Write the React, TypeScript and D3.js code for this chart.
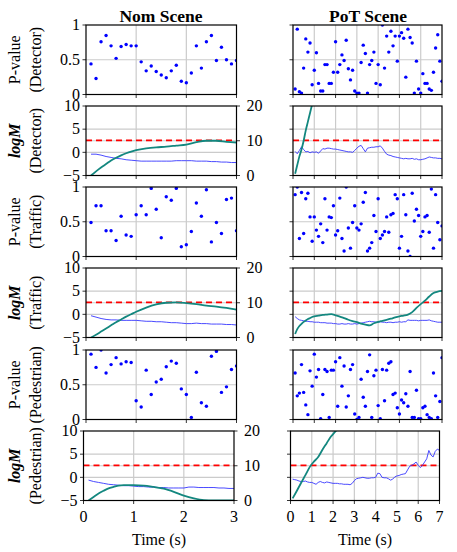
import React from "react";
import * as d3 from "d3";

// sample times
const nomTime = d3.range(1, 31).map((i) => i / 10);
const potTime = d3.range(1, 71).map((i) => i / 10);

// P-values, Nom scene
const nomPDetector = [0.44, 0.23, 0.76, 0.85, 0.7, 0.52, 0.69, 0.72, 0.7, 0.7, 0.47, 0.34, 0.41, 0.33, 0.28, 0.24, 0.34, 0.42, 0.19, 0.17, 0.31, 0.7, 0.38, 0.76, 0.85, 0.49, 0.68, 0.5, 0.44, 0.49];
const nomPTraffic = [0.49, 0.73, 0.73, 0.37, 0.37, 0.23, 0.58, 0.31, 0.29, 0.6, 0.73, 0.6, 0.98, 0.68, 0.27, 0.86, 0.81, 0.98, 0.14, 0.17, 0.36, 0.77, 0.58, 0.96, 0.21, 0.49, 0.33, 0.82, 0.84, 0.37];
const nomPPedestrian = [0.94, 0.75, 1.0, 0.67, 0.79, 0.89, 0.8, 0.83, 0.82, 0.27, 0.18, 0.71, 0.36, 0.54, 0.58, 0.76, 0.84, 0.81, 0.44, 0.36, 0.03, 0.68, 0.24, 0.19, 0.91, 0.98, 0.39, 0.47, 0.72, 0.77];

// P-values, PoT scene
const potPDetector = [0.08, 0.94, 0.04, 0.02, 0.38, 0.8, 0.61, 0.74, 0.14, 0.35, 0.6, 0.16, 0.05, 0.05, 0.43, 0.43, 0.16, 0.16, 0.32, 0.76, 0.32, 0.43, 0.57, 0.49, 0.78, 0.37, 0.21, 0.35, 0.05, 0.02, 0.02, 0.46, 0.71, 0.59, 0.02, 0.43, 0.49, 0.61, 0.16, 0.43, 0.14, 1.0, 0.38, 0.84, 0.61, 0.91, 0.7, 0.84, 0.48, 0.84, 0.89, 0.81, 0.25, 0.94, 0.82, 0.74, 0.02, 0.48, 0.08, 0.02, 0.3, 0.16, 0.16, 0.08, 0.06, 0.32, 0.67, 0.86, 0.48, 0.19];
const potPTraffic = [0.89, 1.0, 0.26, 0.92, 0.33, 0.83, 0.91, 0.57, 0.22, 0.57, 0.38, 0.29, 0.47, 0.2, 0.83, 0.38, 0.57, 0.56, 0.73, 0.31, 0.37, 0.84, 0.26, 0.08, 1.0, 0.41, 0.12, 0.49, 0.73, 0.41, 0.38, 0.47, 0.78, 0.92, 0.08, 0.12, 0.2, 0.59, 0.36, 0.83, 0.26, 0.31, 0.36, 0.57, 0.35, 0.6, 0.62, 0.89, 0.83, 0.12, 0.29, 0.89, 0.6, 0.08, 0.0, 0.91, 0.51, 0.68, 0.59, 0.29, 0.36, 0.57, 0.59, 0.35, 0.97, 0.12, 0.89, 0.49, 0.24, 0.44];
const potPPedestrian = [0.67, 0.34, 0.38, 0.79, 0.39, 0.21, 0.07, 0.7, 0.48, 0.94, 0.61, 0.72, 0.01, 0.36, 0.72, 0.69, 0.03, 0.71, 0.71, 0.83, 0.19, 0.89, 0.48, 0.77, 0.18, 0.34, 0.72, 0.79, 0.08, 0.0, 0.03, 0.58, 0.32, 0.19, 0.69, 0.93, 0.03, 0.63, 0.71, 0.2, 0.01, 0.72, 0.27, 0.71, 0.81, 0.83, 0.36, 0.38, 0.17, 0.08, 0.28, 0.24, 0.37, 0.19, 0.69, 0.03, 0.03, 0.42, 0.01, 0.01, 0.17, 0.19, 0.07, 0.03, 0.01, 0.67, 0.34, 0.03, 0.26, 0.89];

// logM (left axis), blue
const nomMDetector = [-0.4, -0.4, -0.6, -0.9, -1.1, -1.3, -1.4, -1.6, -1.7, -1.8, -1.9, -1.9, -1.9, -1.9, -1.9, -1.9, -1.9, -1.8, -1.8, -1.8, -1.8, -1.9, -1.9, -1.9, -2.0, -2.0, -2.1, -2.1, -2.2, -2.2];
const nomMTraffic = [-0.3, -0.6, -0.9, -1.1, -1.2, -1.2, -1.3, -1.3, -1.3, -1.3, -1.4, -1.5, -1.5, -1.6, -1.6, -1.7, -1.8, -1.8, -1.9, -2.0, -2.0, -1.9, -2.0, -2.0, -2.1, -2.1, -2.1, -2.2, -2.2, -2.3];
const nomMPedestrian = [-0.6, -0.9, -1.1, -1.3, -1.5, -1.6, -1.7, -1.8, -1.8, -1.9, -2.0, -2.0, -2.1, -2.1, -2.2, -2.2, -2.3, -2.3, -2.3, -2.3, -2.1, -2.1, -2.2, -2.2, -2.2, -2.2, -2.3, -2.3, -2.4, -2.4];
const potMDetector = [0.2, -0.3, 0.4, 1.2, 0.6, 0.1, 0.2, -0.1, 0.1, 0.0, 0.1, -0.2, 0.3, 0.8, 0.7, 0.9, 0.9, 0.8, 0.7, 0.7, 0.6, 0.5, 0.4, 0.3, 0.2, 0.1, 0.1, 0.0, 0.4, 0.9, 1.3, 1.5, 0.8, 0.1, 0.9, 1.0, 1.1, 1.1, 1.2, 1.2, 1.4, 0.9, 0.2, -0.4, -0.6, -0.7, -0.9, -1.0, -1.1, -1.2, -1.3, -1.4, -1.3, -1.4, -1.4, -1.3, -1.5, -1.4, -1.6, -1.6, -1.5, -1.4, -1.2, -1.0, -1.1, -1.2, -1.2, -1.3, -1.3, -1.4];
const potMTraffic = [-0.5, -0.9, -1.2, -1.3, -1.4, -1.5, -1.5, -1.6, -1.6, -1.7, -1.7, -1.7, -1.8, -1.8, -1.8, -1.9, -1.9, -1.9, -2.0, -2.0, -2.1, -2.1, -2.0, -2.1, -2.1, -2.0, -2.1, -2.1, -2.0, -2.1, -2.0, -1.9, -1.8, -1.7, -1.6, -1.5, -1.6, -1.6, -1.7, -1.7, -1.6, -1.7, -1.7, -1.8, -1.7, -1.7, -1.8, -1.7, -1.7, -1.6, -1.7, -1.6, -1.6, -1.2, -1.3, -1.3, -1.3, -1.3, -1.4, -1.3, -1.3, -1.3, -1.3, -1.2, -1.4, -1.5, -1.6, -1.7, -1.7, -1.7];
const potMPedestrian = [-0.4, -0.5, -0.6, -0.8, -0.9, -0.9, -0.8, -1.0, -1.1, -1.1, -1.3, -1.5, -1.1, -0.9, -1.1, -1.2, -1.0, -1.1, -1.2, -1.3, -1.3, -1.3, -1.4, -1.4, -1.5, -1.5, -1.5, -1.6, -1.3, -0.7, -0.3, -0.2, -0.1, 0.0, -0.1, -0.2, -0.2, -0.1, -0.1, 0.0, 0.9, 0.8, 0.0, -0.1, -0.1, -0.3, -0.6, -0.4, 0.1, 0.3, 0.4, 0.6, 0.7, 0.8, 1.6, 2.4, 2.6, 2.9, 3.3, 2.6, 2.1, 2.6, 3.3, 4.0, 5.8, 4.8, 4.4, 5.6, 6.1, 5.8];

// second series (right axis 0-20), teal
const nomTealTime = [0.1, 0.2, 0.3, 0.4, 0.5, 0.6, 0.7, 0.8, 0.9, 1.0, 1.2, 1.4, 1.6, 1.8, 2.0, 2.2, 2.4, 2.6, 2.8, 3.0];
const nomTealDetector = [0, 1.2, 2.3, 3.3, 4.3, 5.1, 5.8, 6.4, 6.9, 7.3, 7.8, 8.1, 8.3, 8.6, 8.9, 9.6, 10.0, 10.0, 9.7, 9.5];
const nomTealTraffic = [0, 0.8, 1.7, 2.6, 3.5, 4.4, 5.2, 6.0, 6.7, 7.4, 8.6, 9.5, 10.0, 10.1, 9.9, 9.6, 9.2, 8.9, 8.5, 8.0];
const nomTealPedestrian = [0, 1.0, 2.0, 2.8, 3.5, 3.9, 4.3, 4.4, 4.4, 4.4, 4.3, 3.9, 3.4, 2.5, 1.4, 0.6, 0.1, 0, 0, 0];
const potTealDetTime = [0.1, 0.2, 0.3, 0.4, 0.5, 0.6, 0.7, 0.8, 0.9, 1.0];
const potTealDetector = [0.5, 3.0, 5.5, 7.5, 10.0, 13.0, 15.5, 18.0, 20.5, 23.0];
const potTealTrafTime = [0.1, 0.2, 0.3, 0.4, 0.5, 0.6, 0.7, 0.8, 0.9, 1.0, 1.2, 1.4, 1.6, 1.8, 2.0, 2.2, 2.4, 2.6, 2.8, 3.0, 3.2, 3.4, 3.6, 3.8, 4.0, 4.2, 4.4, 4.6, 4.8, 5.0, 5.2, 5.4, 5.6, 5.8, 6.0, 6.2, 6.4, 6.6, 6.8, 7.0];
const potTealTraffic = [1.0, 2.4, 3.3, 3.9, 4.5, 4.9, 5.3, 5.6, 5.9, 6.1, 6.3, 6.5, 6.6, 6.7, 6.4, 6.0, 5.6, 5.1, 4.7, 4.4, 4.0, 3.7, 3.5, 4.1, 4.5, 4.8, 5.1, 5.4, 5.8, 6.1, 6.3, 6.6, 7.3, 8.5, 9.6, 10.6, 11.8, 12.8, 13.2, 13.4];
const potTealPedTime = [0.1, 0.3, 0.5, 0.7, 0.9, 1.1, 1.3, 1.5, 1.7, 1.9, 2.1, 2.3];
const potTealPedestrian = [0.6, 2.8, 5.1, 7.3, 9.6, 11.2, 12.5, 14.6, 16.5, 18.4, 19.8, 21.3];

const threshold = 2.6;

const pTicks = [0, 0.5, 1];
const pTickLabels = ["0", "0.5", "1"];
const mTicks = [-5, 0, 5, 10];
const mTickLabels = ["\u22125", "0", "5", "10"];
const twinTicks = [0, 10, 20];
const nomXTicks = [0, 1, 2, 3];
const potXTicks = [0, 1, 2, 3, 4, 5, 6, 7];

const FONT = "'Liberation Serif', 'Times New Roman', serif";
const GRID = "#cbcbcb";
const FS = 16;

type Col = { x0: number; x1: number; max: number; ticks: number[]; time: number[] };
const cols: Col[] = [
  { x0: 86, x1: 236.5, max: 3, ticks: nomXTicks, time: nomTime },
  { x0: 293, x1: 442, max: 7, ticks: potXTicks, time: potTime },
];
const rowTops = [25, 106, 187, 268, 350, 431];
const rowH = 69.5;

const rows = [
  { kind: "p", l1: "P-value", l2: "(Detector)", data: [nomPDetector, potPDetector] },
  { kind: "m", l1: "logM", l2: "(Detector)", data: [nomMDetector, potMDetector], teal: [[nomTealTime, nomTealDetector], [potTealDetTime, potTealDetector]] },
  { kind: "p", l1: "P-value", l2: "(Traffic)", data: [nomPTraffic, potPTraffic] },
  { kind: "m", l1: "logM", l2: "(Traffic)", data: [nomMTraffic, potMTraffic], teal: [[nomTealTime, nomTealTraffic], [potTealTrafTime, potTealTraffic]] },
  { kind: "p", l1: "P-value", l2: "(Pedestrian)", data: [nomPPedestrian, potPPedestrian] },
  { kind: "m", l1: "logM", l2: "(Pedestrian)", data: [nomMPedestrian, potMPedestrian], teal: [[nomTealTime, nomTealPedestrian], [potTealPedTime, potTealPedestrian]] },
];

function Panel({ row, ri, ci }: { row: any; ri: number; ci: number }) {
  const col = cols[ci];
  const last = ri === rows.length - 1;
  const dx = last ? -2.5 : 0; // bottom row sits a bit to the left in the original
  const top = rowTops[ri];
  const x = d3.scaleLinear().domain([0, col.max]).range([col.x0 + dx, col.x1 + dx]);
  const isP = row.kind === "p";
  const y = d3.scaleLinear().domain(isP ? [0, 1] : [-5, 10]).range([top + rowH, top]);
  const y2 = d3.scaleLinear().domain([0, 20]).range([top + rowH, top]);
  const clipId = `clip-${ri}-${ci}`;
  const yTicks = isP ? pTicks : mTicks;
  const yLabels = isP ? pTickLabels : mTickLabels;
  const vals: number[] = row.data[ci];
  const blueLine = d3.line<number>().x((_, i) => x(col.time[i])).y((d) => y(d));
  let tealPath = "";
  if (!isP) {
    const [tt, tv] = row.teal[ci];
    tealPath = d3.line<number>().curve(d3.curveMonotoneX).x((_, i) => x(tt[i])).y((d) => y2(d))(tv) || "";
  }
  const x0 = x(0), x1 = x(col.max);
  return (
    <g>
      <defs>
        <clipPath id={clipId}>
          <rect x={x0} y={top} width={x1 - x0} height={rowH} />
        </clipPath>
      </defs>
      {/* grid */}
      {col.ticks.filter((t) => t > 0 && t < col.max).map((t) => (
        <line key={"gx" + t} x1={x(t)} x2={x(t)} y1={top} y2={top + rowH} stroke={GRID} strokeWidth={1.2} />
      ))}
      {yTicks.filter((t, i) => i > 0 && i < yTicks.length - 1).map((t) => (
        <line key={"gy" + t} x1={x0} x2={x1} y1={y(t)} y2={y(t)} stroke={GRID} strokeWidth={1.2} />
      ))}
      {!isP && <line x1={x0} x2={x1} y1={y2(10)} y2={y2(10)} stroke={GRID} strokeWidth={1.2} />}
      <g clipPath={`url(#${clipId})`}>
        {isP ? (
          vals.map((v, i) => <circle key={i} cx={x(col.time[i])} cy={y(v)} r={1.7} fill="#0000ff" />)
        ) : (
          <>
            <line x1={x0} x2={x1} y1={y(threshold)} y2={y(threshold)} stroke="#ff0000" strokeWidth={1.7} strokeDasharray="6,4" />
            <path d={blueLine(vals) || ""} fill="none" stroke="#3535ff" strokeWidth={0.9} />
            <path d={tealPath} fill="none" stroke="#13877f" strokeWidth={1.8} />
          </>
        )}
      </g>
      <rect x={x0} y={top} width={x1 - x0} height={rowH} fill="none" stroke="#000" strokeWidth={1.2} />
      {/* x ticks */}
      {col.ticks.map((t) => (
        <g key={"xt" + t}>
          <line x1={x(t)} x2={x(t)} y1={top + rowH} y2={top + rowH + 3.5} stroke="#000" strokeWidth={0.8} />
          {last && (
            <text x={x(t)} y={top + rowH + 21} textAnchor="middle" fontSize={FS} fontFamily={FONT}>{t}</text>
          )}
        </g>
      ))}
      {/* y ticks */}
      {yTicks.map((t, i) => (
        <g key={"yt" + t}>
          <line x1={x0 - 3.5} x2={x0} y1={y(t)} y2={y(t)} stroke="#000" strokeWidth={0.8} />
          {ci === 0 && (
            <text x={x0 - 6} y={y(t)} dy="0.33em" textAnchor="end" fontSize={FS} fontFamily={FONT}>{yLabels[i]}</text>
          )}
        </g>
      ))}
      {!isP && ci === 0 &&
        twinTicks.map((t) => (
          <g key={"tt" + t}>
            <line x1={x1} x2={x1 + 3.5} y1={y2(t)} y2={y2(t)} stroke="#000" strokeWidth={0.8} />
            <text x={x1 + 10} y={y2(t)} dy="0.33em" textAnchor="start" fontSize={FS} fontFamily={FONT}>{t}</text>
          </g>
        ))}
      {ci === 0 && (
        <g fontFamily={FONT} fontSize={FS}>
          <text
            transform={`translate(${14},${top + rowH / 2}) rotate(-90)`}
            textAnchor="middle"
            dy="0.35em"
            fontStyle={isP ? "normal" : "italic"}
            fontWeight={isP ? "normal" : "bold"}
          >
            {row.l1}
          </text>
          <text transform={`translate(${35},${top + rowH / 2}) rotate(-90)`} textAnchor="middle" dy="0.35em">
            {row.l2}
          </text>
        </g>
      )}
    </g>
  );
}

export default function App() {
  return (
    <svg width={457} height={552} style={{ position: "absolute", left: 0, top: 0, background: "#fff" }}>
      <text x={161} y={22} textAnchor="middle" fontSize={17.5} fontWeight="bold" fontFamily={FONT}>Nom Scene</text>
      <text x={368} y={22} textAnchor="middle" fontSize={17.5} fontWeight="bold" fontFamily={FONT}>PoT Scene</text>
      {rows.map((row, ri) => [0, 1].map((ci) => <Panel key={`${ri}-${ci}`} row={row} ri={ri} ci={ci} />))}
      <text x={159} y={545} textAnchor="middle" fontSize={FS} fontFamily={FONT}>Time (s)</text>
      <text x={365} y={545} textAnchor="middle" fontSize={FS} fontFamily={FONT}>Time (s)</text>
    </svg>
  );
}
